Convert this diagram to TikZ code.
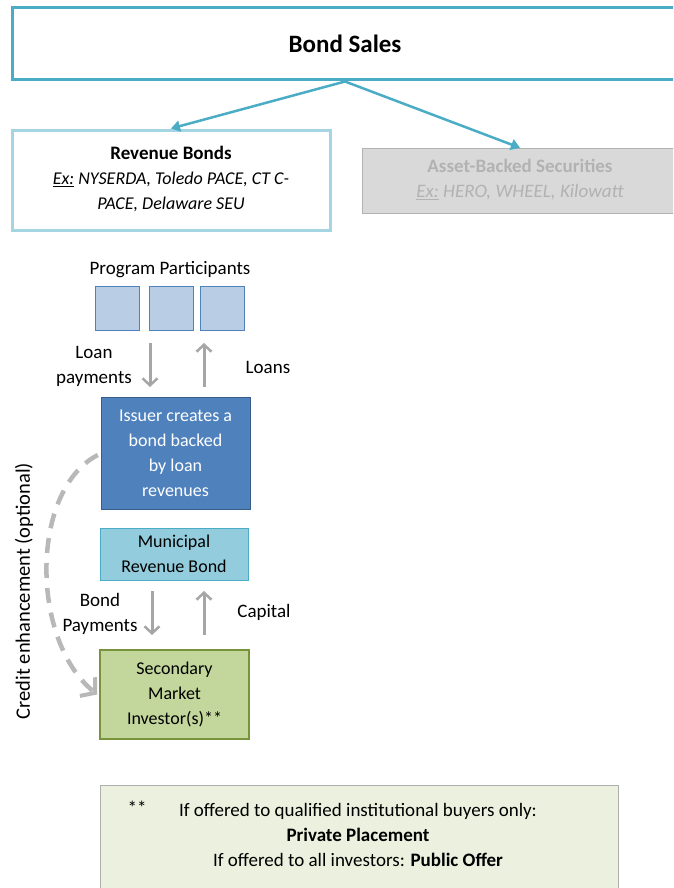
\documentclass[tikz,border=0pt]{standalone}
\definecolor{teal1}{RGB}{75, 172, 198}
\definecolor{teal2}{RGB}{165, 213, 226}
\definecolor{issuerblue}{RGB}{79, 129, 189}
\definecolor{issuerline}{RGB}{56, 93, 138}
\definecolor{partfill}{RGB}{185, 205, 229}
\definecolor{munifill}{RGB}{147, 205, 221}
\definecolor{secfill}{RGB}{195, 214, 155}
\definecolor{secline}{RGB}{119, 147, 60}
\definecolor{notefill}{RGB}{235, 241, 222}
\definecolor{absfill}{RGB}{217, 217, 217}
\definecolor{abstext}{RGB}{178, 178, 178}
\definecolor{flowgray}{RGB}{166, 166, 166}
\usepackage{fontspec}
\setmainfont{Carlito}
\usepackage{tikz}
\usetikzlibrary{arrows.meta}
\usetikzlibrary{calc}
\tikzset{
    every node/.style={font=\fontsize{18}{25}\selectfont, align=center},
    label/.style={font=\fontsize{19}{25}\selectfont},
    box/.style={draw, inner sep=0pt},
    sellarrow/.style={draw=teal1, line width=2.5pt, -{Triangle[length=9pt,width=11pt]}},
    flow/.style={draw=flowgray, line width=3pt, -{Straight Barb[length=7pt,width=15pt,line width=2.5pt]}},
    enhance/.style={draw=absfill!85!black, line width=4.5pt, dash pattern=on 15pt off 10pt, -{Straight Barb[length=10pt,width=24pt,line width=4pt]}}
}
\begin{document}
\begin{tikzpicture}[x=1pt, y=-1pt]
	\useasboundingbox (0,0) rectangle (673,888);
	\clip (0,0) rectangle (673,888);

	\node[box, draw=teal1, line width=3pt, minimum width=666pt, minimum height=72pt] (sales) at (345,44) {};
	\node at (345,44) {\fontsize{25}{28}\selectfont\bfseries Bond Sales};

	\node[box, draw=teal2, line width=3pt, fill=white, minimum width=318pt, minimum height=100pt] (rev) at (171,180) {};
	\node at (171,179) {\fontsize{19}{26}\selectfont\bfseries Revenue Bonds\\
		\itshape\underline{Ex:} NYSERDA, Toledo PACE, CT C-\\
		\itshape PACE, Delaware SEU};

	\node[box, draw=abstext, fill=absfill, minimum width=316pt, minimum height=65pt] (abs) at (520,180.5) {};
	\node[label, text=abstext] at (520,180) {\bfseries Asset-Backed Securities\\
		\itshape\underline{Ex:} HERO, WHEEL, Kilowatt};

	\draw[sellarrow] (sales.south) -- (rev.north);
	\draw[sellarrow] (sales.south) -- (abs.north);

	\node[label] at (170,270) {Program Participants};
	\foreach \n/\x in {1/117, 2/171, 3/222.5}
		\node[box, draw=issuerblue, fill=partfill, minimum size=44pt] (pp\n) at (\x,308) {};

	\node[box, draw=issuerline, fill=issuerblue, text=white, minimum width=149pt, minimum height=112pt] (issuer) at (175.5,453)
		{Issuer creates a\\bond backed\\by loan\\revenues};
	\node[box, draw=teal1, fill=munifill, minimum width=148pt, minimum height=52pt] (muni) at (174,554)
		{Municipal\\Revenue Bond};
	\node[box, draw=secline, line width=1.5pt, fill=secfill, minimum width=149pt, minimum height=89pt] (sec) at (174.5,694.5)
		{Secondary\\Market\\Investor(s)**};

	\coordinate (lp1) at (150,343);
	\coordinate (lp2) at (150,387);
	\coordinate (ln1) at (204,387);
	\coordinate (ln2) at (204,343);
	\draw[flow] (lp1) -- (lp2);
	\draw[flow] (ln1) -- (ln2);
	\node[label] at (94,366) {Loan\\payments};
	\node[label] at (268,367) {Loans};

	\coordinate (bp1) at (152,591);
	\coordinate (bp2) at (152,635);
	\coordinate (cp1) at (204,635);
	\coordinate (cp2) at (204,591);
	\draw[flow] (bp1) -- (bp2);
	\draw[flow] (cp1) -- (cp2);
	\node[label] at (100,614) {Bond\\Payments};
	\node[label] at (264,612) {Capital};

	\draw[enhance] ($(issuer.west)+(-3,2)$) .. controls (30,490) and (30,640) .. ($(sec.west)+(-2,0)$);
	\node[rotate=90, font=\fontsize{20.5}{25}\selectfont] (credit) at (24,591) {Credit enhancement (optional)};

	\node[box, draw=absfill!80!black, fill=notefill, minimum width=518pt, minimum height=110pt] (note) at (359,840) {};
	\node[label] at (137,808) {**};
	\node[label] at (358,835) {If offered to qualified institutional buyers only:\\
		\bfseries Private Placement\\
		If offered to all investors: \textbf{Public Offer}};
\end{tikzpicture}
\end{document}
